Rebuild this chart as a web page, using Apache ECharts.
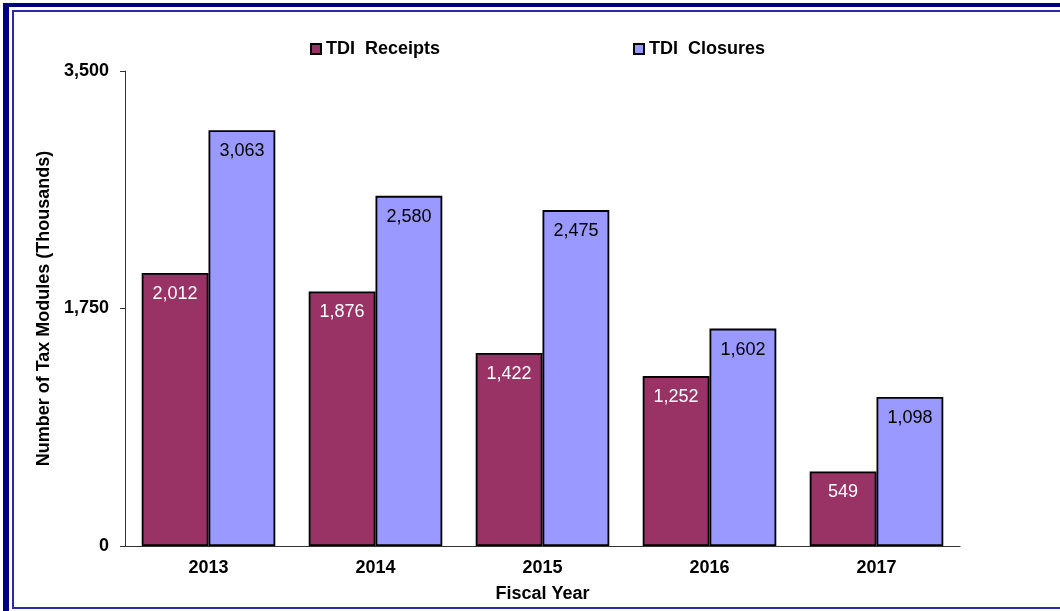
<!DOCTYPE html>
<html lang="en">
<head>
  <meta charset="UTF-8">
  <title>TDI Receipts and Closures</title>
  <script src="https://cdn.jsdelivr.net/npm/echarts@6/dist/echarts.min.js"></script>
  <style>
    body { margin: 0; padding: 0; background: #fff; overflow: hidden; }
    .frame-outer {
      position: absolute; left: 3px; top: 3px; width: 1100px; height: 700px;
      border-left: 6px solid #000080; border-top: 4px solid #000080;
    }
    .frame-inner {
      position: absolute; left: 12px; top: 10px; width: 1100px; height: 595px;
      border-left: 2px solid #2b2ba6; border-top: 2px solid #2b2ba6; border-bottom: 2px solid #2b2ba6;
    }
    #chart { position: absolute; left: 0; top: 0; width: 1060px; height: 611px; }
  </style>
</head>
<body>
  <div class="frame-outer"></div>
  <div class="frame-inner"></div>
  <div id="chart"></div>
  <script>
    var years = ['2013', '2014', '2015', '2016', '2017'];
    var receipts = [2012, 1876, 1422, 1252, 549];
    var closures = [3063, 2580, 2475, 1602, 1098];
    var yTicks = [0, 1750, 3500];

    var font = '"Liberation Sans", Arial, sans-serif';
    var chart = echarts.init(document.getElementById('chart'));

    function fmt(v) {
      return v.toLocaleString('en-US');
    }

    var boldText = { fontFamily: font, fontSize: 18, fontWeight: 'bold', color: '#000' };

    var option = {
      animation: false,
      textStyle: { fontFamily: font },
      grid: { left: 125, top: 71, right: 100, bottom: 65 },
      legend: [
        {
          data: ['TDI  Receipts'],
          left: 305, top: 35,
          icon: 'rect', itemWidth: 10, itemHeight: 10, itemGap: 8,
          textStyle: boldText
        },
        {
          data: ['TDI  Closures'],
          left: 628, top: 35,
          icon: 'rect', itemWidth: 10, itemHeight: 10, itemGap: 8,
          textStyle: boldText
        }
      ],
      xAxis: {
        type: 'category',
        data: years,
        name: 'Fiscal Year',
        nameLocation: 'middle',
        nameGap: 39,
        nameTextStyle: boldText,
        axisLine: { lineStyle: { color: '#333', width: 1 } },
        axisTick: { length: 5, lineStyle: { color: '#333' } },
        axisLabel: Object.assign({ margin: 13 }, boldText)
      },
      yAxis: {
        type: 'value',
        min: yTicks[0],
        max: yTicks[yTicks.length - 1],
        interval: yTicks[1] - yTicks[0],
        name: 'Number of Tax Modules (Thousands)',
        nameLocation: 'middle',
        nameGap: 66,
        nameTextStyle: boldText,
        splitLine: { show: false },
        axisLine: { show: true, lineStyle: { color: '#333', width: 1 } },
        axisTick: { show: true, length: 5, lineStyle: { color: '#333' } },
        axisLabel: Object.assign({
          margin: 16,
          formatter: function (v) { return fmt(v); }
        }, boldText)
      },
      series: [
        {
          name: 'TDI  Receipts',
          type: 'bar',
          data: receipts,
          barGap: '0%',
          barCategoryGap: '20%',
          itemStyle: { color: '#993366', borderColor: '#000', borderWidth: 1.8 },
          label: {
            show: true, position: 'insideTop', distance: 12,
            fontFamily: font, fontSize: 18, color: '#fff',
            formatter: function (p) { return fmt(p.value); }
          }
        },
        {
          name: 'TDI  Closures',
          type: 'bar',
          data: closures,
          barGap: '0%',
          barCategoryGap: '20%',
          itemStyle: { color: '#9999ff', borderColor: '#000', borderWidth: 1.8 },
          label: {
            show: true, position: 'insideTop', distance: 12,
            fontFamily: font, fontSize: 18, color: '#000',
            formatter: function (p) { return fmt(p.value); }
          }
        }
      ]
    };

    chart.setOption(option);
  </script>
</body>
</html>
